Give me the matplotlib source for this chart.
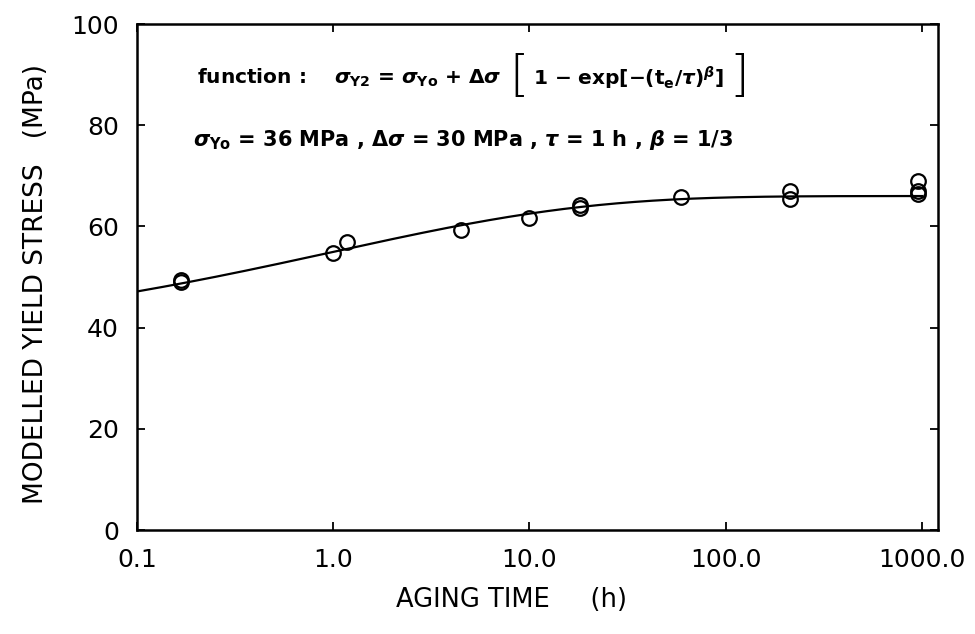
import numpy as np
import matplotlib
matplotlib.use("Agg")
import matplotlib.pyplot as plt

plt.rcParams["font.family"] = ["DejaVu Sans"]
plt.rcParams["mathtext.fontset"] = "custom"
plt.rcParams["mathtext.rm"] = "DejaVu Sans:bold"
plt.rcParams["mathtext.it"] = "DejaVu Sans:italic:bold"
plt.rcParams["mathtext.bf"] = "DejaVu Sans:bold"

# Measured yield stress vs aging time
aging_time_h = [0.168, 0.168, 1.0, 1.17, 4.5, 10.0, 18.0, 18.0, 59.0, 212.0, 212.0, 950.0, 950.0, 950.0]
yield_stress_mpa = [49.0, 49.5, 54.7, 57.0, 59.3, 61.6, 63.7, 64.2, 65.9, 65.4, 66.9, 66.5, 67.0, 69.0]

# Model parameters
sigma_y0 = 36.0      # MPa
delta_sigma = 30.0   # MPa
tau = 1.0            # h
beta = 1.0 / 3.0

x_ticks = [0.1, 1.0, 10.0, 100.0, 1000.0]
x_tick_labels = ["0.1", "1.0", "10.0", "100.0", "1000.0"]
y_ticks = [0, 20, 40, 60, 80, 100]

fig = plt.figure(figsize=(9.75, 6.34), dpi=100)
ax = fig.add_axes([137 / 975, 1 - 530 / 634, (938 - 137) / 975, (530 - 24) / 634])

t_model = np.logspace(-1, 3, 400)
sigma_model = sigma_y0 + delta_sigma * (1 - np.exp(-(t_model / tau) ** beta))
ax.plot(t_model, sigma_model, color="black", lw=1.6)
ax.plot(aging_time_h, yield_stress_mpa, linestyle="none", marker="o",
        markersize=10.5, markerfacecolor="none", markeredgecolor="black",
        markeredgewidth=1.6)

ax.set_xscale("log")
ax.set_xlim(0.1, 1207)
ax.set_ylim(0, 100)
ax.set_xticks(x_ticks)
ax.set_xticklabels(x_tick_labels)
ax.xaxis.set_minor_locator(matplotlib.ticker.NullLocator())
ax.set_yticks(y_ticks)
ax.tick_params(axis="both", which="major", direction="in", length=6, width=1.3,
               top=True, right=True, labelsize=18, pad=13)
for s in ax.spines.values():
    s.set_linewidth(1.8)

fig.text(36 / 975, 1 - 284 / 634, "MODELLED YIELD STRESS   (MPa)",
         rotation=90, ha="center", va="center", fontsize=19)
fig.text(512 / 975, 1 - 600 / 634, "AGING TIME     (h)",
         ha="center", va="center", fontsize=18.5)

# Model equation, assembled piece by piece so the outer brackets can be tall
eq_size = 14.5
p1 = fig.text(197 / 975, 1 - 78 / 634,
              r"function :    $\sigma_{\mathrm{Y2}}$ = $\sigma_{\mathrm{Yo}}$ + $\Delta\sigma$",
              ha="left", va="center", fontsize=eq_size, fontweight="bold")
p2 = ax.annotate("[", xy=(1, 0.5), xycoords=p1, xytext=(6, 1), textcoords="offset points",
                 ha="left", va="center", fontsize=36, fontweight="light")
p3 = ax.annotate(r"1 $-$ exp[$-$(t$_{\mathrm{e}}$/$\tau$)$^{\beta}$]",
                 xy=(1, 0.5), xycoords=p2, xytext=(3, -1), textcoords="offset points",
                 ha="left", va="center", fontsize=eq_size, fontweight="bold")
ax.annotate("]", xy=(1, 0.5), xycoords=p3, xytext=(4, 1), textcoords="offset points",
            ha="left", va="center", fontsize=36, fontweight="light")

fig.text(193 / 975, 1 - 140 / 634,
         r"$\sigma_{\mathrm{Yo}}$ = 36 MPa , $\Delta\sigma$ = 30 MPa , $\tau$ = 1 h , $\beta$ = 1/3",
         ha="left", va="center", fontsize=15, fontweight="bold")

fig.savefig("out.png", dpi=100)
